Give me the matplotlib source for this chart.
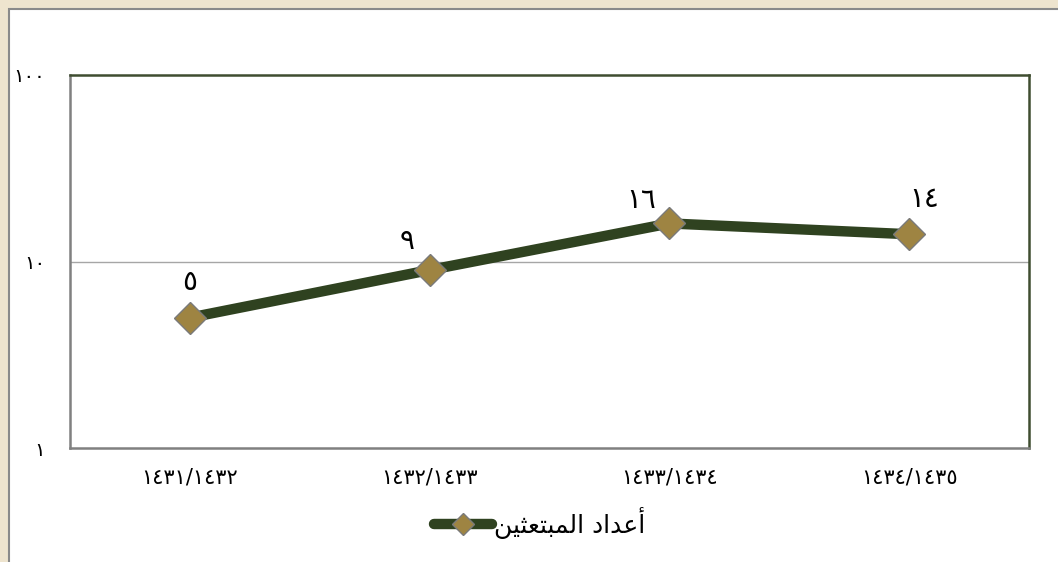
import matplotlib
matplotlib.use('Agg')
import matplotlib.pyplot as plt
from matplotlib.patches import Rectangle

plt.rcParams['font.family'] = ['DejaVu Sans']

# data
years = ['١٤٣١/١٤٣٢', '١٤٣٢/١٤٣٣', '١٤٣٣/١٤٣٤', '١٤٣٤/١٤٣٥']
counts = [5, 9, 16, 14]
count_labels = ['٥', '٩', '١٦', '١٤']
ytick_vals = [1, 10, 100]
ytick_labels = ['١', '١٠', '١٠٠']
# "أعداد المبتعثين" pre-shaped (presentation forms), visual order
legend_label = '\uFE83\uFECB\uFEAA\uFE8D\uFEA9 \uFE8D\uFEDF\uFEE4\uFE92\uFE98\uFECC\uFE9C\uFEF4\uFEE6'[::-1]

line_col = '#2F4220'
mark_col = '#9E8442'

fig = plt.figure(figsize=(10.58, 5.62), dpi=100)
fig.patch.set_facecolor('#EEE4CE')
# white chart panel
panel = Rectangle((9 / 1058, -0.01), 1.1, (562 - 9) / 562 + 0.01,
                  transform=fig.transFigure, facecolor='white',
                  edgecolor='#8A8A8A', linewidth=1.5, zorder=-5)
fig.add_artist(panel)

ax = fig.add_axes([70 / 1058, 1 - 448 / 562, (1029 - 70) / 1058, (448 - 75) / 562])
ax.set_facecolor('white')
x = range(len(years))
ln, = ax.plot(x, counts, color=line_col, lw=7.5, marker='D', ms=16,
              mfc=mark_col, mec='#7A7A7A', mew=1, solid_capstyle='round',
              label=legend_label, zorder=3)
ax.set_yscale('log')
ax.set_ylim(1, 100)
ax.set_xlim(-0.5, 3.5)
ax.set_yticks(ytick_vals)
ax.set_yticklabels(ytick_labels, fontsize=14)
ax.yaxis.set_minor_locator(matplotlib.ticker.NullLocator())
ax.set_xticks(list(x))
ax.set_xticklabels(years, fontsize=15)
ax.tick_params(length=0, pad=14)
ax.tick_params(axis='y', pad=18)
ax.axhline(10, color='#A6A6A6', lw=1, zorder=1)

for s in ['left', 'bottom']:
    ax.spines[s].set_color('#808080')
for s in ['top', 'right']:
    ax.spines[s].set_color('#3F4D30')
for s in ax.spines.values():
    s.set_linewidth(1.8)

offsets = [(0, 26), (-16.5, 21), (-20, 17), (10.5, 25.5)]
for i, (v, t) in enumerate(zip(counts, count_labels)):
    ax.annotate(t, (i, v), xytext=offsets[i], textcoords='offset points',
                ha='center', va='center', fontsize=20)

fig.legend(handles=[ln], loc='center', bbox_to_anchor=(540 / 1058, 1 - 523 / 562),
           frameon=False, fontsize=18, handlelength=2.3, handletextpad=0.1,
           markerscale=0.7)

fig.savefig('out.png', dpi=100, facecolor=fig.get_facecolor())
